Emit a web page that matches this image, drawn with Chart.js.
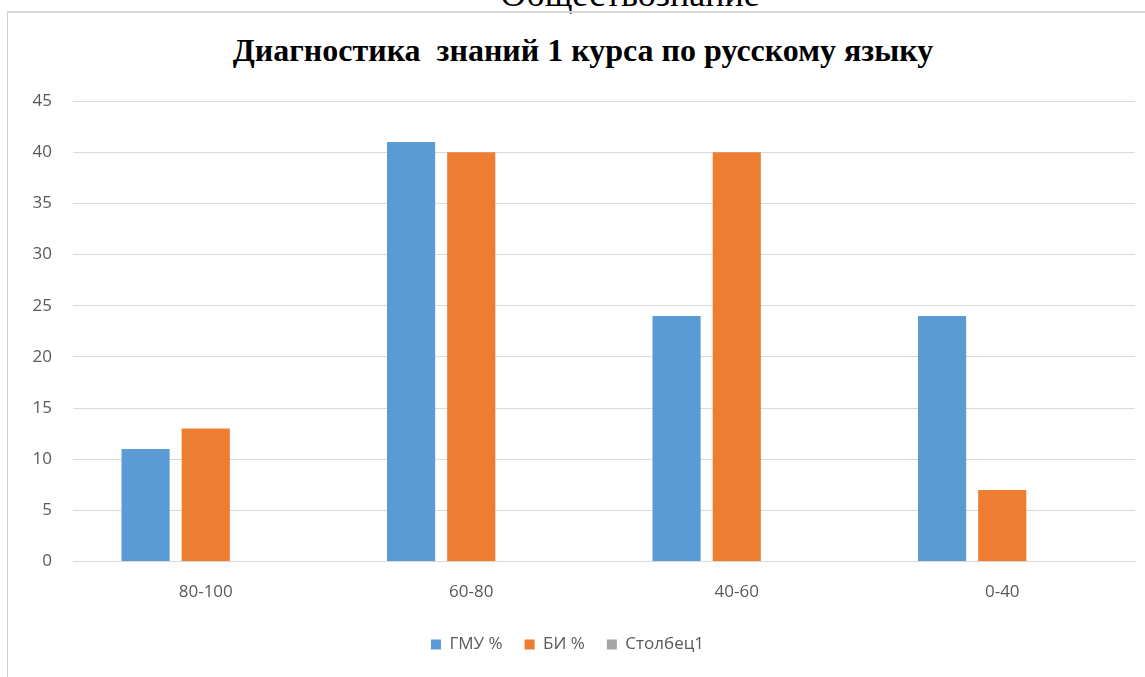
<!DOCTYPE html>
<html>
<head>
<meta charset="utf-8">
<script src="https://cdn.jsdelivr.net/npm/chart.js@4"></script>
<style>
  html, body { margin: 0; padding: 0; background: #fff; overflow: hidden; }
  #top { position: absolute; left: 0; width: 1260px; top: -27px; text-align: center;
         font-family: "Liberation Serif", serif; font-size: 36px; color: #000; }
  #frame { position: absolute; left: 7px; top: 11px; width: 1200px; height: 720px;
           border: 1px solid #d0d0d0; border-top: 2px solid #d6d6d6; }
  #title { position: absolute; left: 0; width: 1166px; top: 32px; text-align: center;
           font-family: "Liberation Serif", serif; font-weight: bold; font-size: 32px;
           color: #000; white-space: pre; }
  #wrap { position: absolute; left: 0; top: 0; width: 1145px; height: 677px; }
</style>
</head>
<body>
<div id="top">Обществознание</div>
<div id="frame"></div>
<div id="title">Диагностика  знаний 1 курса по русскому языку</div>
<div id="wrap"><canvas id="chart"></canvas></div>
<script>
// chart data
const categories = ["80-100", "60-80", "40-60", "0-40"];
const gmuValues = [11, 41, 24, 24];
const biValues = [13, 40, 40, 7];
const col1Values = [null, null, null, null];
const yTicks = [0, 5, 10, 15, 20, 25, 30, 35, 40, 45];

const tickFont = { family: "'Open Sans', 'Noto Sans', sans-serif", size: 17 };

new Chart(document.getElementById("chart"), {
  type: "bar",
  data: {
    labels: categories,
    datasets: [
      { label: "ГМУ %", data: gmuValues, backgroundColor: "#5b9bd5" },
      { label: "БИ %", data: biValues, backgroundColor: "#ed7d31" },
      { label: "Столбец1", data: col1Values, backgroundColor: "#a5a5a5" }
    ]
  },
  options: {
    responsive: true,
    maintainAspectRatio: false,
    animation: false,
    layout: { padding: { left: 0, right: 10, top: 101, bottom: 14 } },
    datasets: { bar: { categoryPercentage: 0.68, barPercentage: 0.8 } },
    plugins: {
      title: { display: false },
      legend: {
        position: "bottom",
        labels: {
          boxWidth: 10, boxHeight: 10, padding: 22,
          color: "#595959", font: tickFont
        }
      },
      tooltip: { enabled: false }
    },
    scales: {
      x: {
        grid: { display: false },
        border: { color: "#d9d9d9" },
        ticks: { color: "#595959", font: tickFont, padding: 12 }
      },
      y: {
        min: 0, max: 45,
        afterBuildTicks: s => { s.ticks = yTicks.map(v => ({ value: v })); },
        afterFit: s => { s.width = 73; },
        grid: { color: "#d9d9d9", drawTicks: false },
        border: { display: false },
        ticks: { color: "#595959", font: tickFont, padding: 21 }
      }
    }
  }
});
</script>
</body>
</html>
